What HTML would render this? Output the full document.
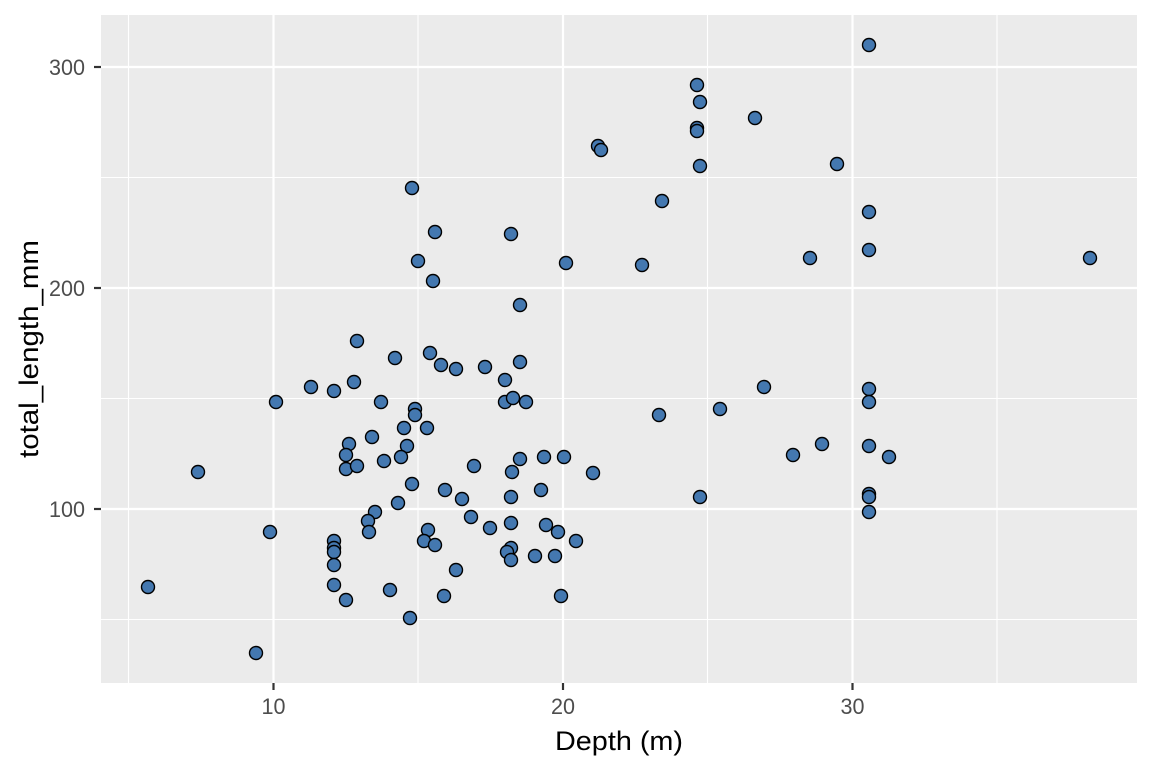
<!DOCTYPE html>
<html><head><meta charset="utf-8"><style>body{margin:0;background:#fff}svg{display:block;font-family:"Liberation Sans",Arial,sans-serif}</style></head><body>
<svg width="1152" height="768" viewBox="0 0 1152 768">
<rect x="101" y="15" width="1036" height="668" fill="#EBEBEB"/>
<g stroke="#fff" stroke-width="1.1">
<line x1="128.5" x2="128.5" y1="15" y2="683"/><line x1="418" x2="418" y1="15" y2="683"/><line x1="707.5" x2="707.5" y1="15" y2="683"/><line x1="997" x2="997" y1="15" y2="683"/>
<line x1="101" x2="1137" y1="177.5" y2="177.5"/><line x1="101" x2="1137" y1="398.5" y2="398.5"/><line x1="101" x2="1137" y1="619.5" y2="619.5"/>
</g>
<g stroke="#fff" stroke-width="2.2">
<line x1="273.5" x2="273.5" y1="15" y2="683"/><line x1="563" x2="563" y1="15" y2="683"/><line x1="852.5" x2="852.5" y1="15" y2="683"/>
<line x1="101" x2="1137" y1="67" y2="67"/><line x1="101" x2="1137" y1="288" y2="288"/><line x1="101" x2="1137" y1="509" y2="509"/>
</g>
<g stroke="#333" stroke-width="2.2">
<line x1="273.5" x2="273.5" y1="683" y2="690"/><line x1="563" x2="563" y1="683" y2="690"/><line x1="852.5" x2="852.5" y1="683" y2="690"/>
<line x1="94" x2="101" y1="67" y2="67"/><line x1="94" x2="101" y1="288" y2="288"/><line x1="94" x2="101" y1="509" y2="509"/>
</g>
<g fill="#4D4D4D" style="font-size:22px">
<text x="261.5" y="714" textLength="24" lengthAdjust="spacingAndGlyphs">10</text><text x="551" y="714" textLength="24" lengthAdjust="spacingAndGlyphs">20</text><text x="840.5" y="714" textLength="24" lengthAdjust="spacingAndGlyphs">30</text>
<text x="49" y="75" textLength="36" lengthAdjust="spacingAndGlyphs">300</text><text x="49" y="296" textLength="36" lengthAdjust="spacingAndGlyphs">200</text><text x="49" y="517" textLength="36" lengthAdjust="spacingAndGlyphs">100</text>
</g>
<text x="555" y="750" style="font-size:27px" fill="#000" textLength="128" lengthAdjust="spacingAndGlyphs">Depth (m)</text>
<text transform="translate(38,458) rotate(-90)" style="font-size:27px" fill="#000" textLength="218" lengthAdjust="spacingAndGlyphs">total_length_mm</text>
<g fill="#4478B0" stroke="#000" stroke-width="1.4">
<circle cx="869" cy="45" r="6.5"/><circle cx="697" cy="85" r="6.5"/><circle cx="700" cy="102" r="6.5"/><circle cx="697" cy="128" r="6.5"/><circle cx="697" cy="131" r="6.5"/><circle cx="755" cy="118" r="6.5"/><circle cx="598" cy="146" r="6.5"/><circle cx="601" cy="150" r="6.5"/><circle cx="837" cy="164" r="6.5"/><circle cx="700" cy="166" r="6.5"/><circle cx="662" cy="201" r="6.5"/><circle cx="869" cy="212" r="6.5"/><circle cx="412" cy="188" r="6.5"/><circle cx="435" cy="232" r="6.5"/><circle cx="511" cy="234" r="6.5"/><circle cx="418" cy="261" r="6.5"/><circle cx="566" cy="263" r="6.5"/><circle cx="642" cy="265" r="6.5"/><circle cx="869" cy="250" r="6.5"/><circle cx="810" cy="258" r="6.5"/><circle cx="1090" cy="258" r="6.5"/><circle cx="433" cy="281" r="6.5"/><circle cx="520" cy="305" r="6.5"/><circle cx="357" cy="341" r="6.5"/><circle cx="430" cy="353" r="6.5"/><circle cx="395" cy="358" r="6.5"/><circle cx="311" cy="387" r="6.5"/><circle cx="334" cy="391" r="6.5"/><circle cx="354" cy="382" r="6.5"/><circle cx="456" cy="369" r="6.5"/><circle cx="485" cy="367" r="6.5"/><circle cx="520" cy="362" r="6.5"/><circle cx="505" cy="380" r="6.5"/><circle cx="441" cy="365" r="6.5"/><circle cx="764" cy="387" r="6.5"/><circle cx="869" cy="389" r="6.5"/><circle cx="276" cy="402" r="6.5"/><circle cx="381" cy="402" r="6.5"/><circle cx="505" cy="402" r="6.5"/><circle cx="513" cy="398" r="6.5"/><circle cx="526" cy="402" r="6.5"/><circle cx="415" cy="409" r="6.5"/><circle cx="415" cy="415" r="6.5"/><circle cx="869" cy="402" r="6.5"/><circle cx="720" cy="409" r="6.5"/><circle cx="659" cy="415" r="6.5"/><circle cx="427" cy="428" r="6.5"/><circle cx="404" cy="428" r="6.5"/><circle cx="372" cy="437" r="6.5"/><circle cx="349" cy="444" r="6.5"/><circle cx="407" cy="446" r="6.5"/><circle cx="346" cy="455" r="6.5"/><circle cx="346" cy="469" r="6.5"/><circle cx="357" cy="466" r="6.5"/><circle cx="384" cy="461" r="6.5"/><circle cx="401" cy="457" r="6.5"/><circle cx="520" cy="459" r="6.5"/><circle cx="474" cy="466" r="6.5"/><circle cx="512" cy="472" r="6.5"/><circle cx="544" cy="457" r="6.5"/><circle cx="564" cy="457" r="6.5"/><circle cx="593" cy="473" r="6.5"/><circle cx="822" cy="444" r="6.5"/><circle cx="793" cy="455" r="6.5"/><circle cx="889" cy="457" r="6.5"/><circle cx="869" cy="446" r="6.5"/><circle cx="198" cy="472" r="6.5"/><circle cx="412" cy="484" r="6.5"/><circle cx="445" cy="490" r="6.5"/><circle cx="462" cy="499" r="6.5"/><circle cx="398" cy="503" r="6.5"/><circle cx="511" cy="497" r="6.5"/><circle cx="541" cy="490" r="6.5"/><circle cx="700" cy="497" r="6.5"/><circle cx="869" cy="494" r="6.5"/><circle cx="869" cy="497" r="6.5"/><circle cx="375" cy="512" r="6.5"/><circle cx="471" cy="517" r="6.5"/><circle cx="869" cy="512" r="6.5"/><circle cx="368" cy="521" r="6.5"/><circle cx="428" cy="530" r="6.5"/><circle cx="369" cy="532" r="6.5"/><circle cx="490" cy="528" r="6.5"/><circle cx="511" cy="523" r="6.5"/><circle cx="546" cy="525" r="6.5"/><circle cx="558" cy="532" r="6.5"/><circle cx="270" cy="532" r="6.5"/><circle cx="424" cy="541" r="6.5"/><circle cx="435" cy="545" r="6.5"/><circle cx="334" cy="541" r="6.5"/><circle cx="334" cy="548" r="6.5"/><circle cx="334" cy="552" r="6.5"/><circle cx="511" cy="548" r="6.5"/><circle cx="507" cy="552" r="6.5"/><circle cx="535" cy="556" r="6.5"/><circle cx="555" cy="556" r="6.5"/><circle cx="576" cy="541" r="6.5"/><circle cx="334" cy="565" r="6.5"/><circle cx="456" cy="570" r="6.5"/><circle cx="511" cy="560" r="6.5"/><circle cx="148" cy="587" r="6.5"/><circle cx="334" cy="585" r="6.5"/><circle cx="390" cy="590" r="6.5"/><circle cx="346" cy="600" r="6.5"/><circle cx="444" cy="596" r="6.5"/><circle cx="561" cy="596" r="6.5"/><circle cx="410" cy="618" r="6.5"/><circle cx="256" cy="653" r="6.5"/>
</g>
</svg>
</body></html>
